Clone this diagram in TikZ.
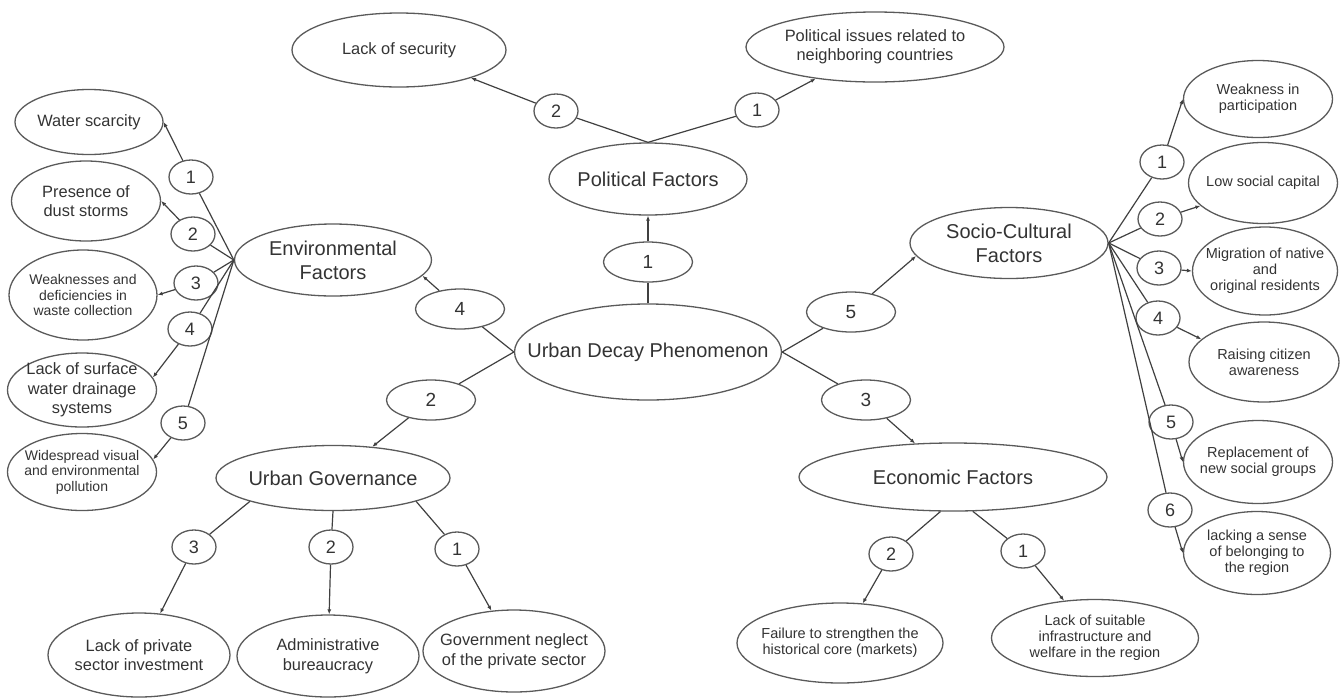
\documentclass[tikz,border=0pt]{standalone}
\usepackage{fontspec}
\setmainfont{Liberation Sans}
\usetikzlibrary{shapes.geometric,arrows.meta}

\definecolor{inkgray}{HTML}{333333}
\definecolor{rimgray}{HTML}{5A5A5A}

\tikzset{
	bubble/.style={ellipse, draw=rimgray, line width=1.3pt, text=inkgray, align=center, inner sep=-150pt},
	headfont/.style={font=\fontsize{20}{24}\selectfont},
	leafbig/.style={font=\fontsize{16.4}{19.5}\selectfont},
	leafsmall/.style={font=\fontsize{14.5}{15.8}\selectfont},
	bignum/.style={bubble, minimum width=89pt, minimum height=40pt, font=\fontsize{19}{22}\selectfont},
	smallnum/.style={bubble, minimum width=44pt, minimum height=34pt, font=\fontsize{18}{21}\selectfont},
	link/.style={draw=black!75, line width=1.2pt},
	linkto/.style={link, -{Latex[length=5pt,width=4pt]}},
}

\begin{document}
\begin{tikzpicture}[x=1pt, y=-1pt]
			%%%%% START %%%%%
			\useasboundingbox (0, 0) rectangle (1344, 697);
			
			\node[bubble, headfont, minimum width=267pt, minimum height=96pt] (udp) at (648, 352) {Urban Decay Phenomenon};
			
			\node[bubble, headfont, minimum width=198pt, minimum height=72pt] (pol) at (648, 179) {Political Factors};
			\node[bubble, headfont, minimum width=197pt, minimum height=72pt] (env) at (333, 260) {Environmental\\Factors};
			\node[bubble, headfont, minimum width=198pt, minimum height=71pt] (soc) at (1009, 243) {Socio-Cultural\\Factors};
			\node[bubble, headfont, minimum width=234pt, minimum height=65pt] (gov) at (333, 478) {Urban Governance};
			\node[bubble, headfont, minimum width=308pt, minimum height=68pt] (eco) at (953, 477) {Economic Factors};
			
			\node[bignum] (n1) at (648, 262) {1};
			\node[bignum] (n4) at (460, 309) {4};
			\node[bignum] (n2) at (431, 400) {2};
			\node[bignum] (n5) at (851, 312) {5};
			\node[bignum] (n3) at (866, 400) {3};
			
			\draw[link] (udp.north) -- (n1);
			\draw[linkto] (n1) -- (pol);
			\draw[link] (udp.west) -- (n4);
			\draw[linkto] (n4) -- (env.-10);
			\draw[link] (udp.west) -- (n2);
			\draw[linkto] (n2) -- (gov);
			\draw[link] (udp.east) -- (n5);
			\draw[linkto] (n5) -- (soc.188);
			\draw[link] (udp.east) -- (n3);
			\draw[linkto] (n3) -- (eco);
			
			%% political
			\node[bubble, leafbig, minimum width=214pt, minimum height=74pt] (sec) at (399, 50) {Lack of security};
			\node[bubble, leafbig, minimum width=258pt, minimum height=70pt] (nbr) at (875, 47) {Political issues related to\\neighboring countries};
			\node[smallnum] (p2) at (556, 111) {2};
			\node[smallnum] (p1) at (757, 110) {1};
			\draw[link] (pol.north) -- (p2);
			\draw[link] (pol.north) -- (p1);
			\draw[linkto] (p2) -- (sec);
			\draw[linkto] (p1) -- (nbr);
			
			%% environmental
			\node[bubble, leafbig, minimum width=148pt, minimum height=65pt] (ws) at (89, 122) {Water scarcity};
			\node[bubble, leafbig, minimum width=149pt, minimum height=80pt] (dust) at (86, 201) {Presence of\\dust storms};
			\node[bubble, font=\fontsize{14}{15.3}\selectfont, minimum width=148pt, minimum height=90pt] (waste) at (83, 295) {Weaknesses and\\deficiencies in\\waste collection};
			\node[bubble, leafbig, minimum width=149pt, minimum height=74pt] (drain) at (82, 390) {Lack of surface\\water drainage\\systems};
			\node[bubble, font=\fontsize{14}{15.5}\selectfont, minimum width=149pt, minimum height=77pt] (poll) at (82, 472) {Widespread visual\\and environmental\\pollution};
			\node[smallnum] (e1) at (191, 177) {1};
			\node[smallnum] (e2) at (193, 234) {2};
			\node[smallnum] (e3) at (196, 283) {3};
			\node[smallnum] (e4) at (190, 329) {4};
			\node[smallnum] (e5) at (183, 423) {5};
			\draw[link] (env.west) -- (e1);
			\draw[link] (env.west) -- (e2);
			\draw[link] (env.west) -- (e3);
			\draw[link] (env.west) -- (e4);
			\draw[link] (env.west) -- (e5);
			\draw[linkto] (e1) -- (ws.east);
			\draw[linkto] (e2) -- (dust.east);
			\draw[linkto] (e3) -- (waste.east);
			\draw[linkto] (e4) -- (drain.10);
			\draw[linkto] (e5) -- (poll.10);
			
			%% socio-cultural
			\node[bubble, leafsmall, minimum width=149pt, minimum height=77pt] (part) at (1258, 99) {Weakness in\\participation};
			\node[bubble, leafsmall, minimum width=149pt, minimum height=81pt] (capital) at (1263, 183) {Low social capital};
			\node[bubble, leafsmall, minimum width=145pt, minimum height=88pt] (migr) at (1265, 271) {Migration of native\\and\\original residents};
			\node[bubble, leafsmall, minimum width=150pt, minimum height=80pt] (aware) at (1264, 362) {Raising citizen\\awareness};
			\node[bubble, leafsmall, minimum width=149pt, minimum height=83pt] (repl) at (1258, 462) {Replacement of\\new social groups};
			\node[bubble, leafsmall, minimum width=147pt, minimum height=83pt] (belong) at (1257, 553) {lacking a sense\\of belonging to\\the region};
			\node[smallnum] (s1) at (1162, 162) {1};
			\node[smallnum] (s2) at (1160, 219) {2};
			\node[smallnum] (s3) at (1159, 268) {3};
			\node[smallnum] (s4) at (1158, 318) {4};
			\node[smallnum] (s5) at (1171, 422) {5};
			\node[smallnum] (s6) at (1170, 510) {6};
			\draw[link] (soc.east) -- (s1);
			\draw[link] (soc.east) -- (s2);
			\draw[link] (soc.east) -- (s3);
			\draw[link] (soc.east) -- (s4);
			\draw[link] (soc.east) -- (s5);
			\draw[link] (soc.east) -- (s6);
			\draw[linkto] (s1) -- (part.west);
			\draw[linkto] (s2) -- (capital.200);
			\draw[linkto] (s3) -- (migr.west);
			\draw[linkto] (s4) -- (aware.160);
			\draw[linkto] (s5) -- (repl.west);
			\draw[linkto] (s6) -- (belong.west);
			
			%% governance
			\node[bubble, leafbig, minimum width=182pt, minimum height=84pt] (inv) at (139, 655) {Lack of private\\sector investment};
			\node[bubble, leafbig, minimum width=182pt, minimum height=82pt] (bur) at (328, 656) {Administrative\\bureaucracy};
			\node[bubble, leafbig, minimum width=182pt, minimum height=82pt] (negl) at (514, 651) {Government neglect\\of the private sector};
			\node[smallnum] (g3) at (194, 547) {3};
			\node[smallnum] (g2) at (331, 547) {2};
			\node[smallnum] (g1) at (457, 549) {1};
			\draw[link] (gov.south west) -- (g3);
			\draw[link] (gov.south) -- (g2);
			\draw[link] (gov.south east) -- (g1);
			\draw[linkto] (g3) -- (inv);
			\draw[linkto] (g2) -- (bur);
			\draw[linkto] (g1) -- (negl);
			
			%% economic
			\node[bubble, leafsmall, minimum width=206pt, minimum height=80pt] (fail) at (840, 643) {Failure to strengthen the\\historical core (markets)};
			\node[bubble, leafsmall, minimum width=207pt, minimum height=77pt] (infra) at (1095, 638) {Lack of suitable\\infrastructure and\\welfare in the region};
			\node[smallnum] (c2) at (891, 554) {2};
			\node[smallnum] (c1) at (1023, 551) {1};
			\draw[link] (eco.250) -- (c2);
			\draw[link] (eco.300) -- (c1);
			\draw[linkto] (c2) -- (fail);
			\draw[linkto] (c1) -- (infra);
			
			%%%%% END %%%%%
\end{tikzpicture}
\end{document}
